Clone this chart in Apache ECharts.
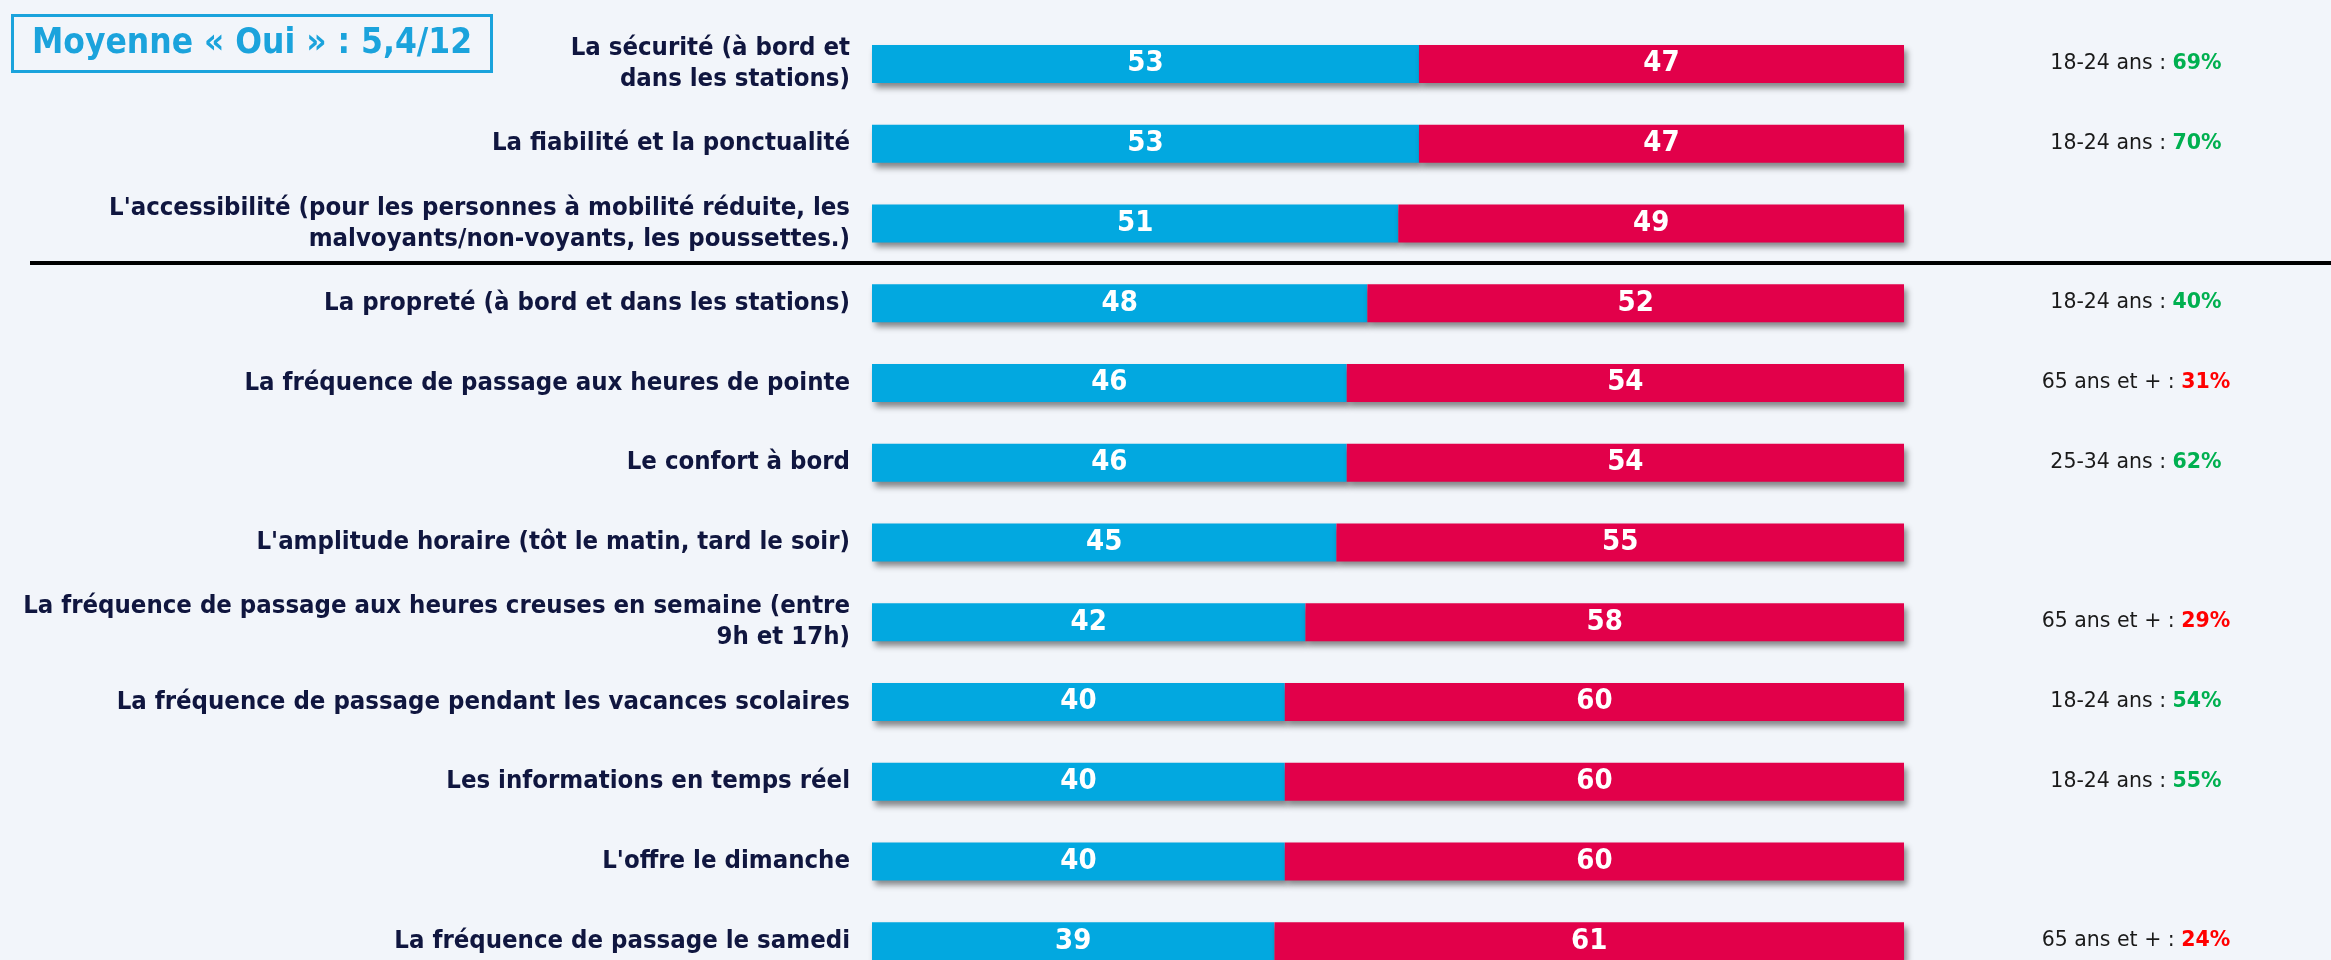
<!DOCTYPE html>
<html>
<head>
<meta charset="utf-8">
<script src="https://cdn.jsdelivr.net/npm/echarts@6/dist/echarts.min.js"></script>
<style>
  html, body { margin: 0; padding: 0; background: #f2f5fa; }
  #chart { width: 2331px; height: 960px; }
</style>
</head>
<body>
<div id="chart"></div>
<script>
// items, top to bottom
const categories = [
  'La sécurité (à bord et\ndans les stations)',
  'La fiabilité et la ponctualité',
  "L'accessibilité (pour les personnes à mobilité réduite, les\nmalvoyants/non-voyants, les poussettes.)",
  'La propreté (à bord et dans les stations)',
  'La fréquence de passage aux heures de pointe',
  'Le confort à bord',
  "L'amplitude horaire (tôt le matin, tard le soir)",
  'La fréquence de passage aux heures creuses en semaine (entre\n9h et 17h)',
  'La fréquence de passage pendant les vacances scolaires',
  'Les informations en temps réel',
  "L'offre le dimanche",
  'La fréquence de passage le samedi'
]
const ouiValues = [53, 53, 51, 48, 46, 46, 45, 42, 40, 40, 40, 39]
const nonValues = [47, 47, 49, 52, 54, 54, 55, 58, 60, 60, 60, 61]

// right-hand notes (age group + share)
const noteGroups = ['18-24 ans', '18-24 ans', '', '18-24 ans', '65 ans et +', '25-34 ans', '', '65 ans et +', '18-24 ans', '18-24 ans', '', '65 ans et +']
const notePcts = ['69%', '70%', '', '40%', '31%', '62%', '', '29%', '54%', '55%', '', '24%']
const noteUp = [true, true, null, true, false, true, null, false, true, true, null, false]

const titleText = 'Moyenne « Oui » : 5,4/12'

const condensed = 'DejaVu Sans Condensed, Liberation Sans Narrow, sans-serif'

const chart = echarts.init(document.getElementById('chart'))

const barShadow = {
  shadowColor: 'rgba(0,0,0,0.45)',
  shadowBlur: 6,
  shadowOffsetX: 3,
  shadowOffsetY: 5
}

const valueLabel = {
  show: true,
  position: 'inside',
  color: '#fff',
  fontSize: 29,
  fontWeight: 'bold',
  fontFamily: condensed
}

const option = {
  backgroundColor: '#f2f5fa',
  animation: false,
  title: {
    text: titleText,
    left: 12,
    top: 15,
    padding: [11, 20],
    borderColor: '#1ba3dc',
    borderWidth: 3,
    textStyle: {
      color: '#1ba3dc',
      fontSize: 35,
      fontWeight: 'bold',
      fontFamily: condensed
    }
  },
  grid: {
    left: 872,
    right: 427,
    top: 24,
    height: 957,
    outerBoundsMode: 'none'
  },
  xAxis: {
    type: 'value',
    min: 0,
    max: 100,
    show: false
  },
  yAxis: [
    {
      type: 'category',
      inverse: true,
      data: categories,
      axisLine: { show: false },
      axisTick: { show: false },
      axisLabel: {
        margin: 22,
        align: 'right',
        color: '#10163f',
        fontSize: 25.5,
        fontWeight: 'bold',
        lineHeight: 31,
        fontFamily: condensed
      }
    },
    {
      type: 'category',
      inverse: true,
      position: 'right',
      data: noteGroups,
      axisLine: { show: false },
      axisTick: { show: false },
      axisLabel: {
        margin: 232,
        align: 'center',
        formatter: function (value, index) {
          if (!value) return ''
          const style = noteUp[index] ? 'g' : 'r'
          return '{n|' + value + ' : }{' + style + '|' + notePcts[index] + '}'
        },
        rich: {
          n: { color: '#1a1a1a', fontSize: 20.5, fontFamily: 'DejaVu Sans, sans-serif' },
          g: { color: '#00b050', fontSize: 20.5, fontWeight: 'bold', fontFamily: 'DejaVu Sans, sans-serif' },
          r: { color: '#ff0000', fontSize: 20.5, fontWeight: 'bold', fontFamily: 'DejaVu Sans, sans-serif' }
        }
      }
    }
  ],
  series: [
    {
      name: 'Oui',
      type: 'bar',
      stack: 'total',
      barWidth: 38,
      data: ouiValues,
      itemStyle: Object.assign({ color: '#02a8e0' }, barShadow),
      label: valueLabel
    },
    {
      name: 'Non',
      type: 'bar',
      stack: 'total',
      barWidth: 38,
      data: nonValues,
      itemStyle: Object.assign({ color: '#e2004a' }, barShadow),
      label: valueLabel
    }
  ]
}
chart.setOption(option)

// divider between the first three items and the rest
const yA = chart.convertToPixel({ yAxisIndex: 0 }, categories[2])
const yB = chart.convertToPixel({ yAxisIndex: 0 }, categories[3])
const yLine = Math.round((yA + yB) / 2)
chart.setOption({
  graphic: [{
    type: 'line',
    shape: { x1: 30, y1: yLine, x2: 2331, y2: yLine },
    style: { stroke: '#000', lineWidth: 4 }
  }]
})
</script>
</body>
</html>
